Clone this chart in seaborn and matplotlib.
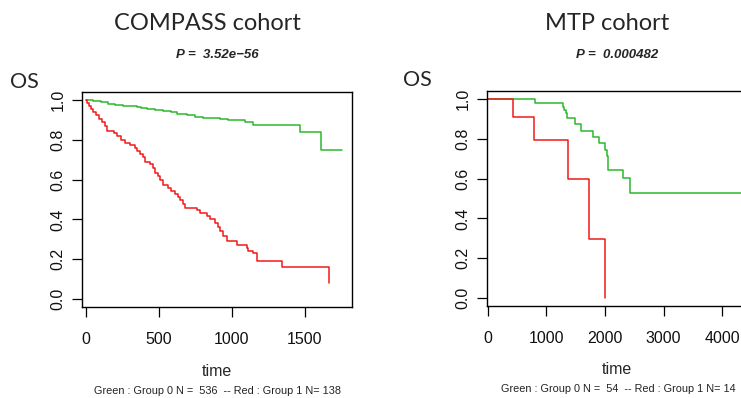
import matplotlib
matplotlib.use("Agg")
import matplotlib.pyplot as plt
import seaborn as sns
import pandas as pd

# ---- data: COMPASS cohort ----
compass_green_t = [0, 50, 100, 153, 200, 256, 300, 347, 380, 416, 470, 530, 580, 621, 690, 750, 804, 918, 973, 1089, 1144, 1468, 1612, 1752]
compass_green_s = [1.0, 0.997, 0.99, 0.98, 0.976, 0.972, 0.968, 0.964, 0.959, 0.954, 0.95, 0.947, 0.938, 0.929, 0.922, 0.915, 0.907, 0.906, 0.897, 0.889, 0.875, 0.84, 0.747, 0.747]
compass_red_t = [0, 10, 20, 35, 50, 70, 90, 110, 130, 146, 195, 215, 240, 267, 300, 336, 350, 370, 390, 404, 440, 461, 475, 495, 510, 530, 565, 580, 610, 630, 644, 665, 678, 758, 781, 827, 849, 884, 906, 920, 940, 964, 1032, 1101, 1112, 1146, 1169, 1341, 1667, 1667]
compass_red_s = [1.0, 0.985, 0.97, 0.955, 0.94, 0.925, 0.905, 0.89, 0.87, 0.845, 0.833, 0.82, 0.80, 0.784, 0.776, 0.76, 0.745, 0.73, 0.715, 0.69, 0.68, 0.66, 0.633, 0.62, 0.60, 0.574, 0.56, 0.545, 0.53, 0.515, 0.50, 0.475, 0.457, 0.445, 0.432, 0.419, 0.40, 0.382, 0.36, 0.34, 0.318, 0.29, 0.273, 0.255, 0.24, 0.231, 0.193, 0.161, 0.08, 0.08]

# ---- data: MTP cohort ----
mtp_green_t = [0, 810, 1290, 1310, 1330, 1360, 1490, 1600, 1800, 1900, 2000, 2030, 2060, 2303, 2423, 4500]
mtp_green_s = [1.0, 0.981, 0.962, 0.943, 0.93, 0.904, 0.874, 0.841, 0.808, 0.779, 0.746, 0.712, 0.641, 0.603, 0.528, 0.528]
mtp_red_t = [0, 438, 797, 1377, 1730, 2002]
mtp_red_s = [1.0, 0.909, 0.795, 0.596, 0.298, 0.0]

titles = ["COMPASS cohort", "MTP cohort"]
pvals = ["P =  3.52e\u221256", "P =  0.000482"]
footnotes = ["Green : Group 0 N =  536  -- Red : Group 1 N= 138",
             "Green : Group 0 N =  54  -- Red : Group 1 N= 14"]
xticks = [[0, 500, 1000, 1500], [0, 1000, 2000, 3000, 4000]]
yticks = [0.0, 0.2, 0.4, 0.6, 0.8, 1.0]

GREEN = "#2cb82c"
RED = "#f01a1a"

sns.set_theme(style="white")
plt.rcParams["font.family"] = ["Liberation Sans", "DejaVu Sans"]

W, H = 741, 398
fig = plt.figure(figsize=(W / 100, H / 100), dpi=100)

def fx(px):
    return px / W

def fy(py):
    return 1 - py / H

ax_l = fig.add_axes([fx(82), fy(307), fx(352) - fx(82), fy(92) - fy(307)])
ax_r = fig.add_axes([fx(487), fy(306), fx(747) - fx(487), fy(91) - fy(306)])

panels = [
    (ax_l, compass_green_t, compass_green_s, compass_red_t, compass_red_s, (-27, 1822)),
    (ax_r, mtp_green_t, mtp_green_s, mtp_red_t, mtp_red_s, (-10, 4420)),
]

for i, (ax, gt, gs, rt, rs, xl) in enumerate(panels):
    df = pd.concat([
        pd.DataFrame({"time": gt, "surv": gs, "grp": "Group 0"}),
        pd.DataFrame({"time": rt, "surv": rs, "grp": "Group 1"}),
    ], ignore_index=True)
    sns.lineplot(data=df, x="time", y="surv", hue="grp",
                 palette={"Group 0": GREEN, "Group 1": RED},
                 estimator=None, sort=False, drawstyle="steps-post",
                 linewidth=1.1, legend=False, ax=ax)
    ax.set_xlim(*xl)
    ax.set_ylim(-0.04, 1.04)
    ax.set_xticks(xticks[i])
    ax.set_xticklabels([str(v) for v in xticks[i]], fontsize=11.5)
    ax.set_yticks(yticks)
    ax.set_yticklabels([f"{v:.1f}" for v in yticks], fontsize=11.5,
                       rotation=90, va="center")
    ax.tick_params(axis="both", direction="out", length=7, width=0.9,
                   color="black", labelcolor="#111111")
    ax.tick_params(axis="x", pad=11)
    ax.tick_params(axis="y", pad=5)
    ax.tick_params(bottom=True, left=True)
    for sp in ax.spines.values():
        sp.set_visible(True)
        sp.set_color("black")
        sp.set_linewidth(1.0)
    ax.set_xlabel("")
    ax.set_ylabel("")
    ax.grid(False)

# text
cx = [217, 617]
fig.text(fx(207), fy(23), titles[0], fontsize=17, family=["Lato", "DejaVu Sans"],
         ha="center", va="center")
fig.text(fx(607), fy(23), titles[1], fontsize=17, family=["Lato", "DejaVu Sans"],
         ha="center", va="center")
for i in range(2):
    fig.text(fx(cx[i]), fy(55), pvals[i], fontsize=9.5, fontweight="bold",
             style="italic", ha="center", va="center")
    fig.text(fx(cx[i]), fy(371.5 if i == 0 else 370), "time", fontsize=11.5,
             ha="center", va="center")
    fig.text(fx(cx[i] + 1), fy(391.5 if i == 0 else 389.5), footnotes[i], fontsize=7.8,
             ha="center", va="center", color="#222222")
fig.text(fx(24), fy(82), "OS", fontsize=15.5, family=["Lato", "DejaVu Sans"],
         ha="center", va="center")
fig.text(fx(417), fy(80), "OS", fontsize=15.5, family=["Lato", "DejaVu Sans"],
         ha="center", va="center")

fig.savefig("out.png", dpi=100)
